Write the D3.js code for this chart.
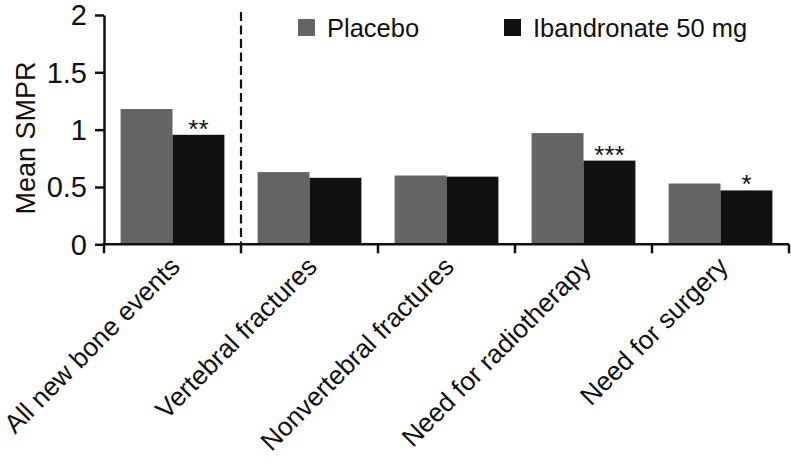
<!DOCTYPE html>
<html>
<head>
<meta charset="utf-8">
<script src="https://cdn.jsdelivr.net/npm/d3@7"></script>
<style>
  html, body { margin: 0; padding: 0; background: #fff; }
  svg text { font-family: "Liberation Sans", Arial, Helvetica, sans-serif; fill: #111; }
</style>
</head>
<body>
<svg id="chart" width="791" height="465"></svg>
<script>
const categories = ["All new bone events", "Vertebral fractures", "Nonvertebral fractures", "Need for radiotherapy", "Need for surgery"];
const seriesNames = ["Placebo", "Ibandronate 50 mg"];
const placebo = [1.18, 0.63, 0.60, 0.97, 0.53];
const ibandronate = [0.955, 0.58, 0.59, 0.73, 0.47];
const significance = ["**", "", "", "***", "*"];
const yTicks = [0, 0.5, 1, 1.5, 2];
const colors = ["#646464", "#111111"];

const svg = d3.select("#chart");
const x0 = d3.scaleBand().domain(categories).range([104, 789]).padding(0);
const x1 = d3.scaleBand().domain(seriesNames).range([0, x0.bandwidth()]).paddingInner(0).paddingOuter(0.32);
const y = d3.scaleLinear().domain([0, 2]).range([244.3, 15]);

const data = categories.map((c, i) => ({ cat: c, vals: [placebo[i], ibandronate[i]], sig: significance[i] }));

// bars
const g = svg.append("g");
data.forEach(d => {
  d.vals.forEach((v, j) => {
    g.append("rect")
      .attr("x", x0(d.cat) + x1(seriesNames[j]))
      .attr("y", y(v))
      .attr("width", x1.bandwidth())
      .attr("height", y(0) - y(v))
      .attr("fill", colors[j]);
  });
});
data.forEach(d => {
  if (d.sig) {
    g.append("text")
      .attr("x", x0(d.cat) + x1(seriesNames[1]) + x1.bandwidth() / 2)
      .attr("y", y(d.vals[1]) + 3)
      .attr("text-anchor", "middle")
      .attr("font-size", 26)
      .text(d.sig);
  }
});

// dashed separator
svg.append("line")
  .attr("x1", x0(categories[1])).attr("x2", x0(categories[1]))
  .attr("y1", 12).attr("y2", y(0))
  .attr("stroke", "#111").attr("stroke-width", 2.2)
  .attr("stroke-dasharray", "9,4.5");

// y axis
const yAxis = svg.append("g")
  .attr("transform", "translate(104,0)")
  .call(d3.axisLeft(y).tickValues(yTicks).tickFormat(d => String(d)).tickSize(9).tickPadding(8).tickSizeOuter(0));
yAxis.select(".domain").attr("stroke", "#111").attr("stroke-width", 2.5);
yAxis.selectAll(".tick line").attr("stroke", "#111").attr("stroke-width", 2.5);
yAxis.selectAll(".tick text").attr("font-size", 29).attr("fill", "#111").attr("dy", "0.34em")
  .style("font-family", "'Liberation Sans', Arial, sans-serif");

// x axis
const xBoundaries = categories.map(c => x0(c)).concat([x0.range()[1]]);
const xAxisG = svg.append("g").attr("transform", `translate(0,${y(0)})`);
xAxisG.append("line")
  .attr("x1", x0.range()[0] - 1.25).attr("x2", x0.range()[1])
  .attr("y1", 0).attr("y2", 0)
  .attr("stroke", "#111").attr("stroke-width", 2.5);
xAxisG.selectAll("line.tk").data(xBoundaries).enter().append("line")
  .attr("class", "tk")
  .attr("x1", d => d).attr("x2", d => d)
  .attr("y1", 0).attr("y2", 9)
  .attr("stroke", "#111").attr("stroke-width", 2.5);
xAxisG.selectAll("text.lbl").data(categories).enter().append("text")
  .attr("class", "lbl")
  .attr("text-anchor", "end")
  .attr("font-size", 26.3)
  .attr("transform", d => `translate(${x0(d) + x0.bandwidth() / 2 + 9},${24}) rotate(-45)`)
  .text(d => d);

// y label
svg.append("text")
  .attr("transform", "translate(35,138) rotate(-90)")
  .attr("text-anchor", "middle")
  .attr("font-size", 27)
  .text("Mean SMPR");

// legend
const legendX = [298, 504];
seriesNames.forEach((s, j) => {
  svg.append("rect")
    .attr("x", legendX[j]).attr("y", 19)
    .attr("width", 17).attr("height", 17)
    .attr("fill", colors[j]);
  svg.append("text")
    .attr("x", legendX[j] + 29).attr("y", 37)
    .attr("font-size", 25.5)
    .text(s);
});
</script>
</body>
</html>
